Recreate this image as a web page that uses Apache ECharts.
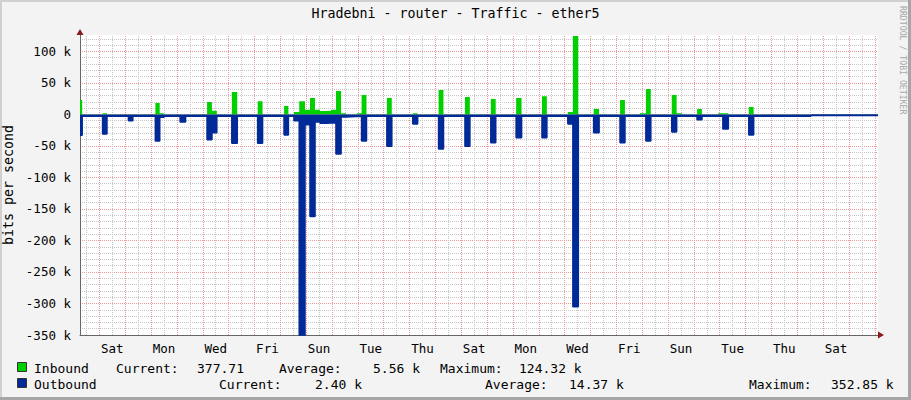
<!DOCTYPE html>
<html><head><meta charset="utf-8">
<script src="https://cdn.jsdelivr.net/npm/echarts@6/dist/echarts.min.js"></script>
<style>html,body{margin:0;padding:0;background:#f3f3f3}#c{width:911px;height:400px}</style>
</head><body><div id="c"></div>
<script>
// ---------- data ----------
const chartTitle = 'Hradebni - router - Traffic - ether5';
const unitLabel = 'bits per second';
const watermark = 'RRDTOOL / TOBI OETIKER';
// day labels, placed at noon of every second day, starting with the first Saturday
const dayLabels = ['Sat','Mon','Wed','Fri','Sun','Tue','Thu','Sat','Mon','Wed','Fri','Sun','Tue','Thu','Sat'];
// time in hours relative to the first Saturday 00:00
const hourStart = -18;
const hourEnd = 723;
// y ticks
const yMin = -350000, yMax = 126000, yMajor = 50000, yMinor = 10000;
// inbound: [hour where value starts, bits/s]
const inboundSteps = [
  [-18, 22700], [-16, 380],
  [3, 2000], [7, 380],
  [52, 18000], [56, 2000], [60, 380],
  [100, 19600], [104.5, 5700], [109, 380],
  [123, 35500], [128, 380],
  [147, 21000], [151.5, 380],
  [171.5, 13200], [175.5, 380],
  [180.7, 3700], [185.6, 21000], [190.9, 7400], [195.6, 26000], [200.2, 7300], [204.9, 5300], [215.1, 7300], [219.7, 37000], [224.4, 2000], [229, 380],
  [239, 2000], [243.5, 30700], [248, 380],
  [267, 26000], [271.5, 380],
  [291, 2000], [295.5, 380],
  [315, 38700], [319.5, 380],
  [339.5, 27500], [344, 380],
  [363.5, 24300], [368, 380],
  [387, 26000], [392, 380],
  [411, 29000], [415.5, 380],
  [435, 3700], [439.7, 124320], [444.7, 380],
  [459, 8400], [464, 380],
  [483.5, 22700], [488, 380],
  [502, 2000], [507.5, 40200], [512, 380],
  [531.5, 30700], [536, 2000], [541, 380],
  [555, 8400], [559.5, 380],
  [574.5, 2000], [584, 380],
  [603, 11600], [607.5, 380],
  [723, 378]
];
// outbound: [hour where value starts, bits/s] (drawn below zero)
const outboundSteps = [
  [-18, 33000], [-16, 3000],
  [3, 31000], [7, 3000],
  [27, 10000], [31, 3000],
  [52, 42000], [56, 4500], [60, 3000],
  [75, 12000], [80, 3000],
  [100, 40000], [104.5, 29000], [109, 3000],
  [123, 45700], [128, 3000],
  [147, 45700], [151.5, 3000],
  [171.5, 32400], [175.5, 3000],
  [180.7, 10000], [185.6, 352850], [190.9, 16500], [195.6, 162000], [200.2, 12000], [204.9, 14000], [210.4, 13000], [219.7, 62700], [224.4, 4000], [229, 3000],
  [243.5, 42000], [248, 3000],
  [267, 50400], [271.5, 3000],
  [291, 15000], [295.5, 3000],
  [315, 54700], [319.5, 3000],
  [339.5, 50400], [344, 3000],
  [363.5, 45000], [368, 3000],
  [387, 37000], [392, 3000],
  [411, 37000], [415.5, 3000],
  [435, 15000], [439.7, 305000], [444.7, 3000],
  [459, 29000], [464, 3000],
  [483.5, 45000], [488, 3000],
  [507.5, 42000], [512, 3000],
  [531.5, 27700], [536, 3000],
  [555, 8500], [559.5, 3000],
  [579, 23000], [584, 3000],
  [603, 32400], [607.5, 3000],
  [660.6, 1600], [723, 2400]
];
const inboundLegend = ['Inbound', 'Current:', '377.71', 'Average:', '5.56 k', 'Maximum:', '124.32 k'];
const outboundLegend = ['Outbound', 'Current:', '2.40 k', 'Average:', '14.37 k', 'Maximum:', '352.85 k'];

// ---------- layout / style ----------
const FONT = 'DejaVu Sans Mono';
const GREEN = '#00CF00', BLUE = '#002A97';
const MAJOR = '#ee9a9a', MINOR = '#c6c6c6';
const row1X = [34, 116, 197, 279, 373, 440, 519];
const row2X = [34, 219, 315, 485, 569, 749, 831];

const hourCats = [];
for (let h = hourStart; h <= hourEnd; h++) hourCats.push(String(h));
const mod = (a, n) => ((a % n) + n) % n;
const isLabel = (i) => { const h = hourStart + i; return h >= 12 && mod(h - 12, 48) === 0; };
// vertical grid: every midnight (major) and noon (minor) within the time range
const midnights = [], noons = [];
for (let h = hourStart; h <= hourEnd; h++) {
  if (mod(h, 24) === 0) midnights.push(h);
  else if (mod(h, 24) === 12) noons.push(h);
}

const chart = echarts.init(document.getElementById('c'), null, {renderer: 'svg'});

function legendRow(items, xs, y, color) {
  const els = [{
    type: 'rect', shape: {x: 17.5, y: y - 5.5, width: 9, height: 9},
    style: {fill: color, stroke: '#333', lineWidth: 1}
  }];
  items.forEach((t, i) => els.push({
    type: 'text', x: xs[i], y: y,
    style: {text: t, font: '13px "' + FONT + '"', fill: '#000', textVerticalAlign: 'middle', verticalAlign: 'middle'}
  }));
  return els;
}

const splitDash = [1, 1];
function gridLines(hours, color) {
  return {
    type: 'line', xAxisIndex: 0, yAxisIndex: 1, data: [[hourStart, 0]], z: 1,
    symbol: 'none', silent: true, lineStyle: {width: 0, opacity: 0}, tooltip: {show: false},
    markLine: {
      silent: true, symbol: 'none', animation: false, label: {show: false}, z: 1,
      emphasis: {disabled: true},
      lineStyle: {color: color, type: splitDash, width: 1},
      data: hours.map((h) => ({xAxis: h}))
    }
  };
}

const option = {
  backgroundColor: '#f3f3f3',
  animation: false,
  title: {
    text: chartTitle, left: 'center', top: 7, padding: 0,
    textStyle: {fontFamily: FONT, fontSize: 13.3, fontWeight: 'normal', color: '#000'}
  },
  grid: {left: 80, right: 33, top: 35, bottom: 65, show: true, backgroundColor: '#ffffff', borderWidth: 0,
    containLabel: false, outerBoundsMode: 'none'},
  xAxis: [
    {type: 'value', min: hourStart, max: hourEnd, show: false, splitLine: {show: false}},
    {
      type: 'category', data: hourCats, boundaryGap: false, position: 'bottom',
      axisLine: {show: true, onZero: false, lineStyle: {color: '#666', width: 1}},
      axisTick: {show: false},
      axisLabel: {interval: isLabel, margin: 7, fontFamily: FONT, fontSize: 12.5, color: '#000',
        formatter: (v) => dayLabels[(Number(v) - 12) / 48]},
      splitLine: {show: false}
    },
    {
      type: 'category', data: hourCats, boundaryGap: false, position: 'bottom',
      axisLine: {show: true, onZero: false, symbol: ['none', 'triangle'], symbolSize: [7, 6], symbolOffset: [0, 3],
        lineStyle: {color: '#8b1a1a', width: 0}},
      axisTick: {show: false}, axisLabel: {show: false}, splitLine: {show: false}
    }
  ],
  yAxis: [
    {
      type: 'value', min: yMin, max: yMax, interval: yMinor, position: 'left',
      axisLine: {show: false}, axisTick: {show: false}, axisLabel: {show: false},
      splitLine: {show: true, showMinLine: false, showMaxLine: false, lineStyle: {color: MINOR, type: splitDash}}
    },
    {
      type: 'value', min: yMin, max: yMax, interval: yMajor, position: 'left',
      name: unitLabel, nameLocation: 'middle', nameRotate: 90, nameGap: 61,
      nameTextStyle: {fontFamily: FONT, fontSize: 13.3, color: '#000'},
      axisLine: {show: true, onZero: false, lineStyle: {color: '#666', width: 1}},
      axisTick: {show: false},
      axisLabel: {margin: 9, fontFamily: FONT, fontSize: 12.5, color: '#000', showMaxLabel: false,
        formatter: (v) => v === 0 ? '0' : (v / 1000) + ' k'},
      splitLine: {show: true, showMinLine: false, showMaxLine: false, lineStyle: {color: MAJOR, type: splitDash}}
    },
    {
      type: 'value', min: yMin, max: yMax, interval: yMajor, position: 'left',
      axisLine: {show: true, onZero: false, symbol: ['none', 'triangle'], symbolSize: [7, 6], symbolOffset: [0, 3],
        lineStyle: {color: '#8b1a1a', width: 0}},
      axisTick: {show: false}, axisLabel: {show: false}, splitLine: {show: false}
    }
  ],
  series: [
    gridLines(noons, MINOR),
    gridLines(midnights, MAJOR),
    {
      type: 'line', name: 'Inbound', xAxisIndex: 0, yAxisIndex: 1, step: 'end', z: 3,
      symbol: 'none', silent: true, data: inboundSteps,
      lineStyle: {width: 0, color: GREEN}, itemStyle: {color: GREEN},
      areaStyle: {color: GREEN, opacity: 1}
    },
    {
      type: 'line', name: 'Outbound', xAxisIndex: 0, yAxisIndex: 1, step: 'end', z: 3,
      symbol: 'none', silent: true, data: outboundSteps.map(([h, v]) => [h, -v]),
      lineStyle: {width: 1.6, color: BLUE}, itemStyle: {color: BLUE},
      areaStyle: {color: BLUE, opacity: 1}
    }
  ],
  graphic: [
    {type: 'rect', shape: {x: 0, y: 0, width: 911, height: 2}, style: {fill: '#d0d0d0'}, silent: true},
    {type: 'rect', shape: {x: 0, y: 0, width: 2, height: 400}, style: {fill: '#d0d0d0'}, silent: true},
    {type: 'rect', shape: {x: 0, y: 397, width: 911, height: 3}, style: {fill: '#a6a6a6'}, silent: true},
    {type: 'rect', shape: {x: 908, y: 0, width: 3, height: 400}, style: {fill: '#a6a6a6'}, silent: true},
    {type: 'text', x: 902.5, y: 6, rotation: -Math.PI / 2,
      style: {text: watermark, font: '8.2px "' + FONT + '"', fill: '#a8a8a8', textVerticalAlign: 'middle', verticalAlign: 'middle', textAlign: 'left', align: 'left'}},
    ...legendRow(inboundLegend, row1X, 368, GREEN),
    ...legendRow(outboundLegend, row2X, 384, BLUE)
  ]
};
chart.setOption(option);
</script>
</body></html>
